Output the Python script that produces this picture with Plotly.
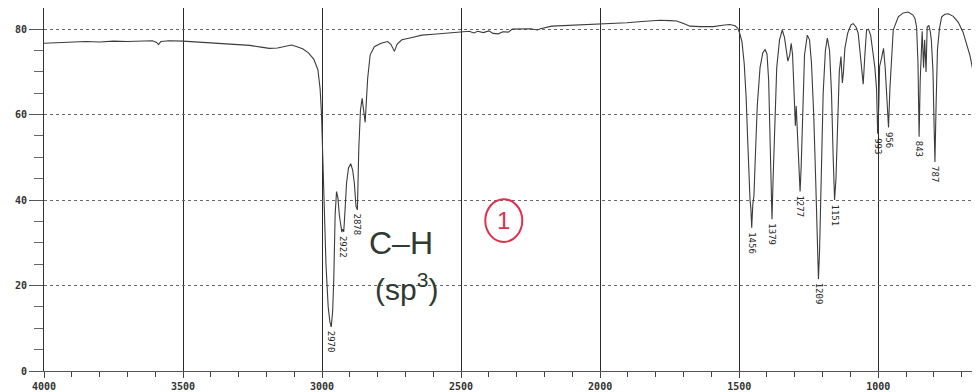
import plotly.graph_objects as go

# IR spectrum: wavenumber (cm-1) and % transmittance
wavenumber = [
    4000, 3950, 3900, 3850, 3800, 3750, 3700, 3650, 3610, 3595, 3588, 3580, 3550, 3500,
    3450, 3400, 3350, 3300, 3260, 3220, 3190, 3160, 3130, 3110, 3090, 3070, 3050, 3030,
    3015, 3007, 3002, 2998, 2992, 2986, 2978, 2972, 2967, 2962, 2958, 2953, 2948, 2943,
    2938, 2932, 2929, 2926, 2922, 2918, 2912, 2905, 2897, 2890, 2884, 2878, 2873, 2868,
    2862, 2856, 2850, 2845, 2840, 2836, 2827, 2812, 2788, 2764, 2752, 2740, 2730, 2713,
    2680, 2641, 2600, 2557, 2500, 2470, 2455, 2440, 2420, 2400, 2385, 2366, 2350, 2330,
    2316, 2290, 2250, 2225, 2215, 2174, 2100, 2050, 2000, 1950, 1904, 1850, 1785, 1750,
    1725, 1700, 1677, 1640, 1593, 1560, 1534, 1515, 1505, 1498, 1490, 1482, 1475, 1470,
    1465, 1461, 1458, 1455, 1451, 1447, 1442, 1435, 1425, 1415, 1407, 1400, 1394, 1389,
    1385, 1382, 1378, 1372, 1365, 1355, 1345, 1337, 1325, 1318, 1313, 1308, 1303, 1300,
    1298, 1295, 1292, 1289, 1285, 1281, 1277, 1272, 1265, 1255, 1247, 1240, 1232, 1225,
    1219, 1215, 1211, 1205, 1198, 1190, 1183, 1175, 1168, 1162, 1157, 1152, 1147, 1140,
    1134, 1129, 1125, 1120, 1110, 1098, 1090, 1080, 1072, 1062, 1054, 1048, 1042, 1035,
    1027, 1020, 1012, 1006, 1002, 998, 995, 988, 981, 975, 968, 963, 958, 954,
    946, 928, 910, 892, 875, 868, 862, 857, 853, 849, 845, 842, 837, 833,
    828, 824, 818, 813, 809, 803, 800, 796, 792, 787, 780, 772, 760, 748,
    730, 712, 695, 682, 670, 658, 646, 640, 634,
]
transmittance = [
    76.7, 76.8, 76.9, 77.1, 77.0, 77.2, 77.1, 77.3, 77.3, 76.9, 76.4, 77.1, 77.3, 77.2,
    77.0, 76.8, 76.6, 76.4, 76.2, 75.8, 75.5, 75.6, 76.1, 76.3, 75.9, 75.4, 74.5, 73.0,
    70.5, 66.0, 60.0, 52.0, 40.4, 25.0, 15.0, 11.5, 10.3, 14.0, 21.2, 36.6, 42.0, 40.5,
    36.5, 33.5, 32.5, 33.2, 32.6, 37.0, 44.0, 47.5, 48.5, 47.0, 44.0, 38.5, 37.7, 52.0,
    61.0, 63.8, 61.0, 58.2, 64.0, 68.5, 74.0, 75.9, 76.7, 77.1, 76.4, 74.8, 76.5, 77.5,
    78.0, 78.6, 78.8, 79.0, 79.3, 79.5, 79.1, 79.5, 79.2, 79.6, 79.0, 78.9, 79.4, 79.3,
    80.0, 80.0, 80.1, 79.8, 80.1, 80.7, 80.9, 81.2, 81.3, 81.4, 81.5, 81.8, 82.1, 82.0,
    81.9, 81.3, 80.7, 80.6, 80.6, 80.9, 81.1, 80.8, 80.2, 79.0, 77.0, 72.0, 64.0, 55.0,
    45.0, 40.0, 38.0, 33.5, 39.0, 41.0, 50.0, 62.0, 71.0, 74.5, 75.2, 74.2, 68.0, 55.0,
    42.0, 35.5, 45.0, 60.0, 71.0, 77.5, 79.8, 78.0, 72.5, 74.0, 76.7, 74.0, 65.0, 60.0,
    57.4, 62.0, 58.0, 56.0, 50.0, 42.0, 48.0, 62.0, 74.0, 78.6, 77.5, 72.0, 60.0, 45.0,
    30.0, 21.5, 28.0, 48.0, 65.0, 75.0, 77.9, 75.0, 65.0, 50.0, 40.0, 45.0, 58.0, 70.0,
    73.6, 67.4, 70.0, 75.5, 79.0, 81.0, 81.3, 80.5, 79.0, 73.0, 67.1, 74.0, 79.8, 80.0,
    78.5, 75.0, 71.0, 66.0, 55.5, 62.0, 71.3, 73.2, 75.5, 71.0, 62.0, 57.0, 66.0, 71.0,
    79.8, 82.9, 83.8, 84.0, 83.3, 82.5, 80.5, 72.0, 54.8, 68.0, 78.0, 79.5, 71.0, 77.5,
    70.0, 80.5, 80.9, 79.5, 77.5, 70.0, 60.0, 48.9, 62.0, 75.2, 80.0, 82.9, 83.5, 83.6,
    83.0, 81.6, 79.3, 76.7, 73.8, 69.8, 64.8, 62.0, 59.7,
]

# printed peak labels: position on the trace and the printed text
peak_pos = [2967, 2922, 2873, 1455, 1382, 1281, 1215, 1157, 1002, 963, 853, 796]
peak_T = [10.3, 32.6, 37.7, 33.5, 35.5, 42.0, 21.5, 40.0, 55.5, 57.0, 54.8, 48.9]
peak_text = ["2970", "2922", "2878", "1456", "1379", "1277", "1209", "1151", "993", "956", "843", "787"]

x_ticks = [4000, 3500, 3000, 2500, 2000, 1500, 1000]
y_ticks = [0, 20, 40, 60, 80]

fig = go.Figure()
fig.add_trace(go.Scatter(
    x=wavenumber, y=transmittance, mode="lines",
    line=dict(color="#3c3c3c", width=1.1), hoverinfo="skip", showlegend=False,
))

mono = "DejaVu Sans Mono"
for px, pt, txt in zip(peak_pos, peak_T, peak_text):
    fig.add_annotation(
        x=px, y=pt, text=txt, showarrow=False, textangle=90,
        xanchor="center", yanchor="top", yshift=-2,
        font=dict(family=mono, size=9, color="#262626"),
    )

# handwritten notes
ink = "#2f3a33"
fig.add_annotation(x=2716, y=30.0, text="C\u2013H", showarrow=False,
                   font=dict(family="Liberation Sans", size=32, color=ink))
fig.add_annotation(x=2698, y=19.6, text="(sp<sup>3</sup>)", showarrow=False,
                   font=dict(family="Liberation Sans", size=30, color=ink))
fig.add_shape(type="circle", xref="x", yref="y", x0=2413, x1=2280, y0=30.2, y1=40.2,
              line=dict(color="#e0304f", width=2))
fig.add_annotation(x=2347, y=35.3, text="1", showarrow=False,
                   font=dict(family="Liberation Sans", size=24, color="#e0304f"))

# the page body adds an 8px margin, so the figure is sized to fill the rest
fig.update_layout(
    width=972, height=384,
    margin=dict(l=36, r=0, t=0, b=17),
    paper_bgcolor="white", plot_bgcolor="white",
    xaxis=dict(
        range=[4000, 634], tickvals=x_ticks, ticktext=[str(v) for v in x_ticks],
        showgrid=True, gridcolor="#2a2a2a", gridwidth=1,
        showline=True, linecolor="#555555", linewidth=1,
        ticks="outside", ticklen=6, tickcolor="#444444",
        minor=dict(dtick=100, tick0=0, ticks="outside", ticklen=5, tickcolor="#444444", showgrid=False),
        tickfont=dict(family=mono, size=10, color="#333333", weight="bold"),
        zeroline=False,
    ),
    yaxis=dict(
        range=[0, 84.95], tickvals=y_ticks,
        showgrid=True, gridcolor="#6a6a6a", gridwidth=1, griddash="dot",
        showline=True, linecolor="#333333", linewidth=1,
        ticks="outside", ticklen=14, tickcolor="#555555",
        minor=dict(dtick=5, tick0=0, ticks="outside", ticklen=9, tickcolor="#666666", showgrid=False),
        tickfont=dict(family=mono, size=10, color="#333333", weight="bold"),
        zeroline=False,
    ),
)

fig.write_html("out.html")
